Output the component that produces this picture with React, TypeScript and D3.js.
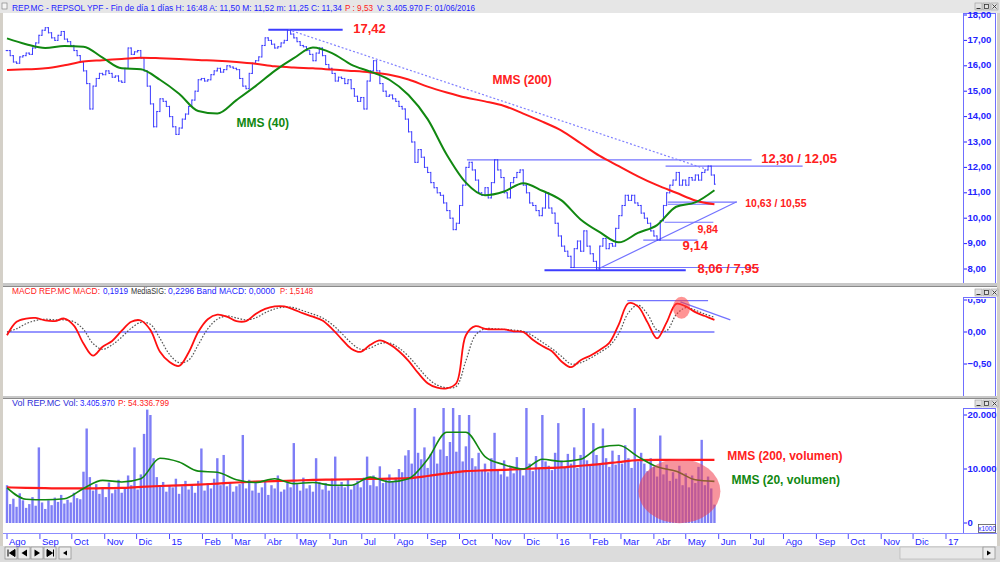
import React from "react";
import * as d3 from "d3";

// ---------- DATA ----------
const START = "2014-08-01";
const AXIS_END = "2017-01-01";
const PRICE_STEP_DAYS = 3;
const AVG_STEP_DAYS = 18;
const MACD_STEP_DAYS = 9;

const closes = [
  16.6, 16.4, 16.15, 16.1, 16.35, 16.4, 16.5, 16.45, 16.7, 16.9,
  17.2, 17.4, 17.5, 17.3, 17.1, 17.0, 17.2, 17.35, 17.05, 16.95,
  16.8, 16.6, 16.4, 16.15, 15.8, 15.3, 14.3, 15.2, 15.5, 15.7,
  15.65, 15.8, 15.7, 15.55, 15.6, 15.4, 15.35, 15.9, 16.7, 16.45,
  16.55, 16.6, 16.3, 15.8, 15.2, 14.5, 13.6, 14.2, 14.7, 14.6,
  14.4, 14.0, 13.6, 13.3, 13.55, 13.9, 14.1, 14.4, 14.65, 15.0,
  15.45, 15.5, 15.4, 15.45, 15.65, 15.8, 15.9, 15.75, 15.85, 16.0,
  15.95, 15.9, 15.85, 15.5, 15.2, 15.1, 15.7, 16.1, 16.2, 16.35,
  16.8, 17.1, 17.0, 16.85, 16.7, 16.75, 16.9, 17.0, 17.4, 17.25,
  17.1, 16.95, 16.8, 16.75, 16.6, 16.45, 16.2, 16.5, 16.7, 16.4,
  16.05, 15.9, 15.7, 15.4, 15.55, 15.5, 15.3, 15.45, 15.1, 14.8,
  14.6, 14.75, 14.3, 15.4, 15.8, 16.2, 15.8, 15.3, 15.0, 14.8,
  14.85, 14.7, 14.6, 14.4, 14.3, 13.9, 13.4, 13.0, 12.2, 12.7,
  12.4, 12.0, 11.8, 11.4, 11.2, 11.0, 10.9, 10.6, 10.3, 10.0,
  9.55, 9.8, 10.5, 11.3, 12.0, 12.2, 11.9, 11.5, 11.0, 10.9,
  11.2, 10.8, 11.4, 12.3, 11.9, 11.6, 11.0, 10.8, 11.4, 11.6,
  11.8, 11.9, 11.3, 11.0, 10.6, 10.5, 10.3, 10.1, 10.4, 11.0,
  10.4, 10.2, 9.8, 9.3, 8.9, 8.7, 8.5, 8.06, 8.8, 9.1,
  8.7, 9.5, 8.9, 8.6, 8.3, 7.95, 8.9, 9.2, 8.8, 9.0,
  8.9, 9.6, 10.1, 10.5, 10.9, 10.7, 10.9, 10.6, 10.5, 10.2,
  10.0, 9.8, 9.5, 9.3, 9.14, 9.9, 10.5, 11.0, 11.3, 11.5,
  11.8, 11.3, 11.5, 11.3, 11.6, 11.5, 11.7, 11.5, 11.8, 11.9,
  12.05, 11.7, 11.34,
];

const volumes = [
  7000, 3500, 4500, 3000, 5500, 4200, 2800, 3500, 4800, 3200,
  14000, 3800, 2600, 4200, 3300, 4700, 3900, 5200, 3600, 4300,
  3800, 5600, 4600, 4400, 9500, 17500, 8500, 6000, 7200, 5400,
  6500, 4800, 7500, 5500, 6200, 8000, 5600, 6300, 8800, 7000,
  14000, 6200, 9000, 16500, 21000, 20000, 12000, 8500, 6800, 7600,
  5800, 7000, 6600, 8200, 5400, 6800, 7800, 6200, 7200, 5600,
  7800, 13800, 6000, 7400, 6400, 8200, 12000, 7000, 12600, 6800,
  7600, 5800, 6800, 7200, 16300, 6400, 8000, 6000, 7400, 5600,
  6600, 7800, 5200, 7000, 6400, 8800, 5800, 6200, 7400, 6600,
  14800, 7200, 6000, 8400, 6400, 7000, 5800, 12000, 7600, 6200,
  7400, 6000, 8200, 12300, 6800, 7600, 6600, 8000, 6200, 7200,
  7800, 6600, 8400, 12300, 7000, 8800, 6800, 10500, 7400, 8000,
  9000, 7600, 8400, 10000, 9400, 12500, 13500, 11000, 21500, 13000,
  11800, 14000, 10200, 12800, 16000, 11000, 13600, 21500, 12400, 15000,
  21500, 13200, 20000, 11400, 14200, 20000, 12000, 10500, 13000, 9800,
  11000, 9400, 12000, 16700, 10000, 9000, 11600, 8600, 10400, 9200,
  12200, 10000, 8800, 21600, 11000, 9600, 12400, 10200, 20000, 11400,
  10600, 9800, 13000, 18500, 11600, 10400, 12800, 11000, 14000, 10200,
  12600, 21600, 11600, 10800, 18500, 12600, 11000, 17500, 12000, 10400,
  13400, 10800, 12600, 11000, 14400, 12000, 10200, 21600, 11400, 13000,
  11000, 9600, 12000, 10400, 8600, 16200, 9000, 10800, 7800, 9400,
  8200, 10600, 7000, 9200, 6600, 8800, 7400, 10400, 15400, 7000,
  8600, 6400, 3406,
];

const mms40 = [
  17.08, 16.85, 16.7, 16.78, 16.75, 16.32, 15.9, 15.86, 15.45, 14.9,
  14.22, 14.12, 14.65, 15.2, 15.8, 16.3, 16.72, 16.5, 16.05, 15.77,
  15.45, 14.85, 13.9, 12.5, 11.4, 10.9, 11.05, 11.38, 11.08, 10.7,
  9.95, 9.45, 9.05, 9.42, 9.73, 10.45, 10.62, 11.1,
];
const mms200 = [
  15.83, 15.86, 15.9, 16.02, 16.17, 16.22, 16.27, 16.32, 16.3, 16.27,
  16.23, 16.2, 16.15, 16.08, 15.98, 15.93, 15.9, 15.85, 15.8, 15.74,
  15.65, 15.46, 15.18, 14.95, 14.75, 14.6, 14.42, 14.12, 13.8, 13.45,
  12.95, 12.45, 12.05, 11.65, 11.3, 11.0, 10.7, 10.55,
];
const volMms20 = [
  6500, 4400, 4300, 4500, 6400, 7900, 7600, 8200, 12000, 11300,
  9600, 9400, 8000, 7500, 8200, 7300, 7500, 7000, 7000, 8500,
  7600, 8200, 11800, 16800, 16800, 12300, 10800, 10000, 11800, 11400,
  11800, 14000, 14400, 12300, 10400, 9600, 8000, 7700,
];
const volMms200 = [
  6600, 6500, 6450, 6400, 6400, 6450, 6500, 6700, 6850, 6950,
  7100, 7300, 7500, 7650, 7750, 7850, 8000, 8050, 8100, 8150,
  8200, 8300, 8700, 9200, 9600, 9750, 9850, 10000, 10150, 10300,
  10600, 10900, 11300, 11650, 11700, 11700, 11700, 11700,
];
const macdLine = [
  -0.05, 0.16, 0.21, 0.22, 0.18, 0.17, 0.21, 0.1, -0.18, -0.37,
  -0.23, -0.14, 0.02, 0.16, 0.18, 0.03, -0.31, -0.47, -0.53, -0.32,
  0.0, 0.2, 0.27, 0.24, 0.17, 0.17, 0.28, 0.36, 0.4, 0.4,
  0.35, 0.29, 0.24, 0.18, 0.05, -0.11, -0.26, -0.31, -0.2, -0.13,
  -0.19, -0.3, -0.45, -0.64, -0.8, -0.87, -0.88, -0.8, -0.05, 0.09,
  0.05, 0.04, 0.04, 0.01, 0.0, -0.12, -0.22, -0.3, -0.46, -0.55,
  -0.44, -0.37, -0.28, -0.17, 0.12, 0.45, 0.4, 0.15, -0.1, 0.15,
  0.44, 0.4, 0.31, 0.25, 0.19,
];
const macdSignal = [
  0.0, 0.05, 0.13, 0.18, 0.2, 0.19, 0.19, 0.16, 0.04, -0.18,
  -0.27, -0.2, -0.08, 0.06, 0.15, 0.12, -0.1, -0.35, -0.48, -0.44,
  -0.2, 0.05, 0.2, 0.25, 0.22, 0.19, 0.22, 0.3, 0.36, 0.39,
  0.38, 0.33, 0.28, 0.22, 0.12, -0.02, -0.17, -0.27, -0.25, -0.18,
  -0.17, -0.25, -0.38, -0.55, -0.72, -0.83, -0.87, -0.85, -0.45, -0.05,
  0.05, 0.05, 0.04, 0.03, 0.01, -0.06, -0.16, -0.26, -0.38, -0.5,
  -0.48, -0.41, -0.32, -0.22, -0.02, 0.3, 0.42, 0.28, 0.03, 0.02,
  0.27, 0.38, 0.34, 0.28, 0.23,
];

const priceTicks = [8, 9, 10, 11, 12, 13, 14, 15, 16, 17, 18];
const macdTicks = [0.5, 0, -0.5];
const volTicks = [0, 10000, 20000];
const monthAbbr = ["Ene", "Feb", "Mar", "Abr", "May", "Jun", "Jul", "Ago", "Sep", "Oct", "Nov", "Dic"];

// [from, to, price]
const thinLevels: [string, string, number][] = [
  ["2015-10-08", "2016-07-02", 12.3],
  ["2016-04-12", "2016-08-19", 12.05],
  ["2016-04-14", "2016-06-18", 10.63],
  ["2016-04-14", "2016-05-27", 10.55],
  ["2016-04-11", "2016-05-27", 9.84],
  ["2016-03-22", "2016-05-12", 9.14],
  ["2016-01-13", "2016-07-09", 8.06],
];
const thickLevels: [string, string, number][] = [
  ["2015-04-04", "2015-06-13", 17.42],
  ["2015-12-20", "2016-05-01", 7.95],
];
const resistanceLine: [string, number][] = [["2015-04-23", 17.42], ["2016-05-19", 11.95]];
const supportLine: [string, number][] = [["2016-02-07", 7.97], ["2016-06-18", 10.65]];
const priceLabels: [string, string, number][] = [
  ["17,42", "2015-06-23", 17.42],
  ["12,30 / 12,05", "2016-07-11", 12.29],
  ["9,14", "2016-04-28", 8.87],
  ["8,06 / 7,95", "2016-05-12", 7.96],
];
const priceSmallLabels: [string, string, number][] = [
  ["10,63 / 10,55", "2016-06-26", 10.56],
  ["9,84", "2016-05-12", 9.54],
];
const maLabels: [string, string, number][] = [
  ["MMS (200)", "2015-11-01", 15.4],
  ["MMS (40)", "2015-03-05", 13.7],
];
const macdLevels: [string, string, number][] = [
  ["2016-03-07", "2016-05-22", 0.49],
  ["2014-08-01", "2016-05-28", 0],
];
const macdTrend: [string, number][] = [["2016-04-26", 0.47], ["2016-06-12", 0.19]];
const macdHighlight: [string, number] = ["2016-04-27", 0.38];
const volHighlight: [string, number] = ["2016-04-25", 5900];
const volLabels: [string, string, number][] = [
  ["MMS (200, volumen)", "2016-06-09", 12200],
  ["MMS (20, volumen)", "2016-06-13", 7800],
];

// ---------- CHART ----------
const FONT = "'Liberation Sans', Arial, sans-serif";
const BLUE_TXT = "#2323ff";
const RED_TXT = "#ff2020";
const LINE_BLUE = "#7373ff";

const parse = d3.timeParse("%Y-%m-%d");
const locale = d3.formatLocale({ decimal: ",", thousands: ".", grouping: [3], currency: ["", "€"] });
const f2 = locale.format(",.2f");
const f0 = locale.format(",.0f");

// header pieces: [text, colour, x0, x1]
const headerPrice: [string, string, number, number][] = [
  ["REP.MC - REPSOL YPF - Fin de día 1 días H: 16:48 A: 11,50 M: 11,52 m: 11,25 C: 11,34", BLUE_TXT, 12, 342],
  ["P : 9,53", RED_TXT, 345, 373],
  ["V: 3.405.970 F: 01/06/2016", BLUE_TXT, 377, 475],
];
const headerMacd: [string, string, number, number][] = [
  ["MACD  REP.MC MACD:", RED_TXT, 12, 100],
  ["0,1919", BLUE_TXT, 103, 128],
  ["MediaSIG:", "#333333", 131, 166],
  ["0,2296 Band  MACD: 0,0000", BLUE_TXT, 168, 275],
  ["P: 1,5148", RED_TXT, 280, 313],
];
const headerVol: [string, string, number, number][] = [
  ["Vol  REP.MC Vol:", "#3030d8", 12, 78],
  ["3.405.970", BLUE_TXT, 80, 115],
  ["P: 54.336.799", RED_TXT, 118, 169],
];

function Header({ parts, y, size }: { parts: [string, string, number, number][]; y: number; size: number }) {
  return (
    <g>
      {parts.map(([t, c, a, b], k) => (
        <text key={k} x={a} y={y} fontSize={size} fill={c} textLength={b - a} lengthAdjust="spacingAndGlyphs">{t}</text>
      ))}
    </g>
  );
}

function WinBtns({ y }: { y: number }) {
  const xs = [975, 983, 991];
  return (
    <g>
      {xs.map((bx, k) => (
        <g key={k}>
          <rect x={bx} y={y} width={7} height={7} fill="#e2e2e2" stroke="#9a9a9a" strokeWidth={0.6} />
          {k === 0 && <line x1={bx + 1.5} x2={bx + 5.5} y1={y + 5.5} y2={y + 5.5} stroke="#333" strokeWidth={1} />}
          {k === 1 && <rect x={bx + 1.5} y={y + 1.5} width={4} height={4} fill="none" stroke="#333" strokeWidth={0.8} />}
          {k === 2 && <path d={`M${bx + 1.5},${y + 1.5}L${bx + 5.5},${y + 5.5}M${bx + 5.5},${y + 1.5}L${bx + 1.5},${y + 5.5}`} stroke="#333" strokeWidth={0.9} />}
        </g>
      ))}
    </g>
  );
}

export default function App() {
  const start = parse(START)!;
  const end = parse(AXIS_END)!;
  const x = d3.scaleTime().domain([start, end]).range([7, 946]);
  const yP = d3.scaleLinear().domain([8, 18]).range([269, 15]);
  const yM = d3.scaleLinear().domain([-0.5, 0.5]).range([364, 300]);
  const yV = d3.scaleLinear().domain([0, 20000]).range([523, 415]);
  const xd = (s: string) => x(parse(s)!);

  const pDates = closes.map((_, i) => d3.timeDay.offset(start, i * PRICE_STEP_DAYS));
  const aDates = mms40.map((_, i) => d3.timeDay.offset(start, i * AVG_STEP_DAYS));
  const mDates = macdLine.map((_, i) => d3.timeDay.offset(start, i * MACD_STEP_DAYS));

  // OHLC-like bars (open = previous close)
  let bars = "";
  closes.forEach((c, i) => {
    const o = i === 0 ? c : closes[i - 1];
    const px = x(pDates[i]);
    const lo = yP(Math.min(o, c));
    const hi = yP(Math.max(o, c));
    bars += `M${px},${hi - 0.6}V${lo + 0.6}M${px - 1.3},${yP(o)}H${px}M${px},${yP(c)}H${px + 1.3}`;
  });

  const avgLine = (vals: number[], ys: (v: number) => number) =>
    d3.line<number>().x((_, i) => x(aDates[i])).y((v) => ys(v)).curve(d3.curveMonotoneX)(vals) || "";
  const macdPath = (vals: number[]) =>
    d3.line<number>().x((_, i) => x(mDates[i])).y((v) => yM(v)).curve(d3.curveCatmullRom.alpha(0.5))(vals) || "";

  const months = d3.timeMonth.range(start, d3.timeDay.offset(end, 1));

  return (
    <svg width={1000} height={562} style={{ position: "absolute", left: 0, top: 0 }} fontFamily={FONT}>
      <defs>
        <clipPath id="cp-price"><rect x={4} y={14} width={958} height={269} /></clipPath>
        <clipPath id="cp-macd"><rect x={4} y={288} width={958} height={108} /></clipPath>
        <clipPath id="cp-vol"><rect x={4} y={408} width={958} height={125} /></clipPath>
        <clipPath id="cp-macdaxis"><rect x={963} y={299} width={33} height={97} /></clipPath>
      </defs>

      {/* window frame */}
      <rect x={0} y={0} width={1000} height={562} fill="#d4d0c8" />
      <rect x={0} y={0} width={1000} height={13} fill="#e6e6e6" />
      <rect x={3} y={13} width={994} height={270} fill="#ffffff" />
      <rect x={3} y={283} width={994} height={4} fill="#c8c8c8" />
      <line x1={3} x2={997} y1={286.5} y2={286.5} stroke="#8a8a8a" strokeWidth={1} />
      <rect x={3} y={287} width={994} height={109} fill="#ffffff" />
      <rect x={3} y={396} width={994} height={3} fill="#c8c8c8" />
      <line x1={3} x2={997} y1={398.5} y2={398.5} stroke="#8a8a8a" strokeWidth={1} />
      <rect x={3} y={399} width={994} height={147} fill="#ffffff" />
      <rect x={0} y={546} width={1000} height={16} fill="#dcdcdc" />

      {/* header texts */}
      <rect x={2} y={3} width={5} height={6} fill="#f4f4f4" stroke="#777" strokeWidth={0.6} />
      <Header parts={headerPrice} y={10.5} size={8.3} />
      <Header parts={headerMacd} y={294} size={8.2} />
      <Header parts={headerVol} y={405.5} size={8.2} />

      <WinBtns y={3} />
      <WinBtns y={289} />
      <WinBtns y={400} />

      {/* ===== PRICE PANEL ===== */}
      <g clipPath="url(#cp-price)">
        {thinLevels.map(([a, b, v], k) => (
          <line key={"tl" + k} x1={xd(a)} x2={xd(b)} y1={yP(v)} y2={yP(v)} stroke={LINE_BLUE} strokeWidth={1.2} />
        ))}
        {thickLevels.map(([a, b, v], k) => (
          <line key={"th" + k} x1={xd(a)} x2={xd(b)} y1={yP(v)} y2={yP(v)} stroke="#3d3dff" strokeWidth={2.2} />
        ))}
        <line x1={xd(resistanceLine[0][0])} y1={yP(resistanceLine[0][1])} x2={xd(resistanceLine[1][0])} y2={yP(resistanceLine[1][1])}
          stroke="#8080ff" strokeWidth={1.2} strokeDasharray="2,2" />
        <line x1={xd(supportLine[0][0])} y1={yP(supportLine[0][1])} x2={xd(supportLine[1][0])} y2={yP(supportLine[1][1])}
          stroke={LINE_BLUE} strokeWidth={1.2} />
        <path d={bars} fill="none" stroke="#3b3bff" strokeWidth={1} />
        <path d={avgLine(mms200, yP)} fill="none" stroke="#ff1a1a" strokeWidth={2} />
        <path d={avgLine(mms40, yP)} fill="none" stroke="#118811" strokeWidth={2} />
        {priceLabels.map(([t, d, v], k) => (
          <text key={"pl" + k} x={xd(d)} y={yP(v)} dominantBaseline="middle" fontSize={13} fontWeight="bold" fill={RED_TXT}>{t}</text>
        ))}
        {priceSmallLabels.map(([t, d, v], k) => (
          <text key={"ps" + k} x={xd(d)} y={yP(v)} dominantBaseline="middle" fontSize={10.5} fontWeight="bold" fill={RED_TXT}>{t}</text>
        ))}
        <text x={xd(maLabels[0][1])} y={yP(maLabels[0][2])} dominantBaseline="middle" fontSize={12} fontWeight="bold" fill={RED_TXT}>{maLabels[0][0]}</text>
        <text x={xd(maLabels[1][1])} y={yP(maLabels[1][2])} dominantBaseline="middle" fontSize={12} fontWeight="bold" fill="#118811">{maLabels[1][0]}</text>
      </g>
      {/* price axis box */}
      <g shapeRendering="crispEdges">
        <line x1={963.5} x2={963.5} y1={13} y2={283} stroke="#6f6fff" />
        <line x1={995.5} x2={995.5} y1={13} y2={283} stroke="#6f6fff" />
        <line x1={963.5} x2={995.5} y1={13.5} y2={13.5} stroke="#6f6fff" />
      </g>
      {priceTicks.map((t) => (
        <g key={"pt" + t}>
          <line x1={964} x2={967} y1={yP(t)} y2={yP(t)} stroke={BLUE_TXT} />
          <text x={967.5} y={yP(t)} dominantBaseline="middle" fontSize={9.5} fontWeight="bold" fill={BLUE_TXT}>{f2(t)}</text>
        </g>
      ))}

      {/* ===== MACD PANEL ===== */}
      <g clipPath="url(#cp-macd)">
        {macdLevels.map(([a, b, v], k) => (
          <line key={"ml" + k} x1={xd(a)} x2={xd(b)} y1={yM(v)} y2={yM(v)} stroke={LINE_BLUE} strokeWidth={1.4} />
        ))}
        <line x1={xd(macdTrend[0][0])} y1={yM(macdTrend[0][1])} x2={xd(macdTrend[1][0])} y2={yM(macdTrend[1][1])} stroke={LINE_BLUE} strokeWidth={1.3} />
        <path d={macdPath(macdSignal)} fill="none" stroke="#555555" strokeWidth={1.2} strokeDasharray="1.6,1.6" />
        <path d={macdPath(macdLine)} fill="none" stroke="#ff1010" strokeWidth={1.8} />
        <ellipse cx={xd(macdHighlight[0])} cy={yM(macdHighlight[1])} rx={8.5} ry={11} fill="#ff3c3c" fillOpacity={0.55} />
      </g>
      <g shapeRendering="crispEdges">
        <line x1={963.5} x2={963.5} y1={297} y2={396} stroke="#6f6fff" />
        <line x1={995.5} x2={995.5} y1={297} y2={396} stroke="#6f6fff" />
        <line x1={963.5} x2={995.5} y1={297.5} y2={297.5} stroke="#6f6fff" />
      </g>
      <g clipPath="url(#cp-macdaxis)">
        {macdTicks.map((t) => (
          <g key={"mt" + t}>
            <line x1={964} x2={967} y1={yM(t)} y2={yM(t)} stroke={BLUE_TXT} />
            <text x={967.5} y={yM(t)} dominantBaseline="middle" fontSize={9.5} fontWeight="bold" fill={BLUE_TXT}>{f2(t)}</text>
          </g>
        ))}
      </g>

      {/* ===== VOLUME PANEL ===== */}
      <g clipPath="url(#cp-vol)">
        {volumes.map((v, i) => (
          <rect key={"vb" + i} x={x(pDates[i]) - 1.2} y={yV(v)} width={2.4} height={yV(0) - yV(v)} fill="#6262f4" fillOpacity={0.82} />
        ))}
        <path d={avgLine(volMms200, yV)} fill="none" stroke="#ff1a1a" strokeWidth={2.2} />
        <path d={avgLine(volMms20, yV)} fill="none" stroke="#118811" strokeWidth={1.6} />
        <ellipse cx={xd(volHighlight[0])} cy={yV(volHighlight[1])} rx={41} ry={32} fill="#f03c4c" fillOpacity={0.55} />
      </g>
      <text x={xd(volLabels[0][1])} y={yV(volLabels[0][2])} dominantBaseline="middle" fontSize={12} fontWeight="bold" fill={RED_TXT}>{volLabels[0][0]}</text>
      <text x={xd(volLabels[1][1])} y={yV(volLabels[1][2])} dominantBaseline="middle" fontSize={12} fontWeight="bold" fill="#118811">{volLabels[1][0]}</text>
      <g shapeRendering="crispEdges">
        <line x1={963.5} x2={963.5} y1={408} y2={533} stroke="#6f6fff" />
        <line x1={995.5} x2={995.5} y1={408} y2={533} stroke="#6f6fff" />
        <line x1={963.5} x2={995.5} y1={408.5} y2={408.5} stroke="#6f6fff" />
      </g>
      {volTicks.map((t) => (
        <g key={"vt" + t}>
          <line x1={964} x2={967} y1={yV(t)} y2={yV(t)} stroke={BLUE_TXT} />
          <text x={967.5} y={yV(t)} dominantBaseline="middle" fontSize={9.5} fontWeight="bold" fill={BLUE_TXT}>{f0(t)}</text>
        </g>
      ))}
      <rect x={978.5} y={524.5} width={17} height={8} fill="#fff" stroke="#555" strokeWidth={0.8} />
      <text x={987} y={529} textAnchor="middle" dominantBaseline="middle" fontSize={6.5} fill={BLUE_TXT}>x1000</text>

      {/* ===== TIME AXIS ===== */}
      <line x1={3} x2={997} y1={533.5} y2={533.5} stroke="#8c8cff" shapeRendering="crispEdges" />
      {months.map((m, k) => {
        const mx = x(m);
        const lbl = m.getMonth() === 0 ? d3.timeFormat("%y")(m) : monthAbbr[m.getMonth()];
        return (
          <g key={"m" + k}>
            <line x1={mx} x2={mx} y1={534} y2={539} stroke="#5050ff" strokeWidth={1} />
            <text x={mx + 2} y={545} fontSize={9.5} fill={BLUE_TXT}>{lbl}</text>
          </g>
        );
      })}

      {/* navigation buttons */}
      {[5, 18, 31, 44, 59].map((bx, k) => (
        <rect key={"nb" + k} x={bx} y={547} width={12} height={12} fill="#ececec" stroke="#8a8a8a" strokeWidth={0.7} />
      ))}
      <path d="M8,549.5V556.5M15,549.5L9.5,553L15,556.5Z" fill="#000" stroke="#000" strokeWidth={1} />
      <path d="M27,549.5L21.5,553L27,556.5Z" fill="#000" />
      <path d="M34.5,549.5L40,553L34.5,556.5Z" fill="#000" />
      <path d="M47,549.5L52.5,553L47,556.5ZM53.5,549.5V556.5" fill="#000" stroke="#000" strokeWidth={1} />
      <path d="M67,550.5L63,553L67,555.5Z" fill="#000" />
      <rect x={900} y={547} width={83} height={12} fill="#e8e8e8" stroke="#b0b0b0" strokeWidth={0.6} />
      <rect x={983} y={547} width={12} height={12} fill="#ececec" stroke="#8a8a8a" strokeWidth={0.7} />
      <path d="M987,550.5L991,553L987,555.5Z" fill="#000" />
    </svg>
  );
}
